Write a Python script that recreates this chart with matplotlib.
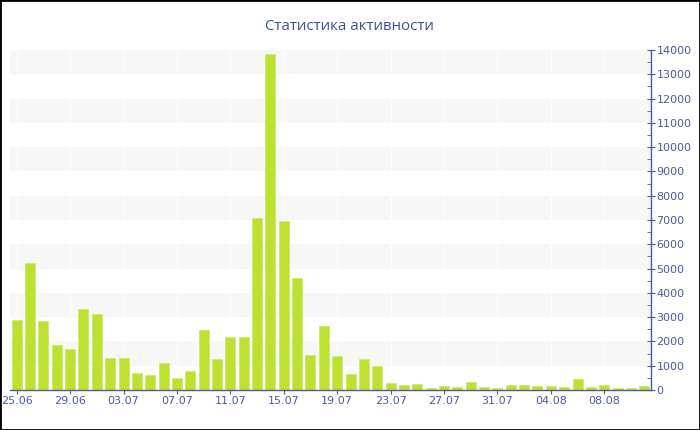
import matplotlib
matplotlib.use("Agg")
import matplotlib.pyplot as plt
from matplotlib.ticker import MultipleLocator
import datetime as dt

start = dt.date(2025, 6, 25)
values = [2900, 5250, 2850, 1850, 1700, 3330, 3140, 1300, 1300, 690,
          620, 1110, 480, 800, 2480, 1290, 2170, 2200, 7070, 13820,
          6950, 4610, 1460, 2650, 1410, 660, 1275, 1000, 300, 195,
          235, 80, 180, 110, 330, 125, 75, 195, 190, 170,
          160, 125, 470, 125, 220, 75, 80, 160]
dates = [start + dt.timedelta(days=i) for i in range(len(values))]
labels = [d.strftime("%d.%m") for d in dates]
title = "Статистика активности"

bar_color = "#bde131"
axis_color = "#4c5b9c"
band_color = "#f7f7f7"

fig = plt.figure(figsize=(7, 4.3), dpi=100)
ax = fig.add_axes([10/700, 1-390/430, 641/700, 340/430])
x = list(range(len(values)))

for lo in range(1000, 14000, 2000):
    ax.axhspan(lo, lo+1000, color=band_color, zorder=0, lw=0)
for i in range(0, len(values), 4):
    ax.axvline(i, color="white", lw=0.8, zorder=0.5)

ax.bar(x, values, width=0.75, color=bar_color, edgecolor="#cde86a", linewidth=0.5, zorder=2)

ax.set_xlim(-0.5, len(values)-0.5)
ax.set_ylim(0, 14000)
ax.set_xticks(x[::4])
ax.set_xticklabels(labels[::4])
ax.yaxis.tick_right()
ax.yaxis.set_major_locator(MultipleLocator(1000))
ax.yaxis.set_minor_locator(MultipleLocator(500))
for s in ["top", "left"]:
    ax.spines[s].set_visible(False)
for s in ["bottom", "right"]:
    ax.spines[s].set_color(axis_color)
    ax.spines[s].set_linewidth(1)
ax.tick_params(axis="y", which="major", direction="inout", length=6, color=axis_color,
               labelcolor=axis_color, labelsize=8, pad=1)
ax.tick_params(axis="y", which="minor", direction="in", length=3, color=axis_color)
ax.tick_params(axis="x", direction="out", length=3, color=axis_color,
               labelcolor=axis_color, labelsize=8, pad=1)
ax.set_facecolor("white")

fig.text(349/700, 1-26/430, title, ha="center", va="center", color="#3d4f9f",
         fontsize=10.8, family=["Open Sans", "DejaVu Sans"])
fig.patches.append(plt.Rectangle((0, 0), 1, 1, transform=fig.transFigure, fill=False,
                                 edgecolor="black", linewidth=2))
fig.savefig("out.png", dpi=100)
